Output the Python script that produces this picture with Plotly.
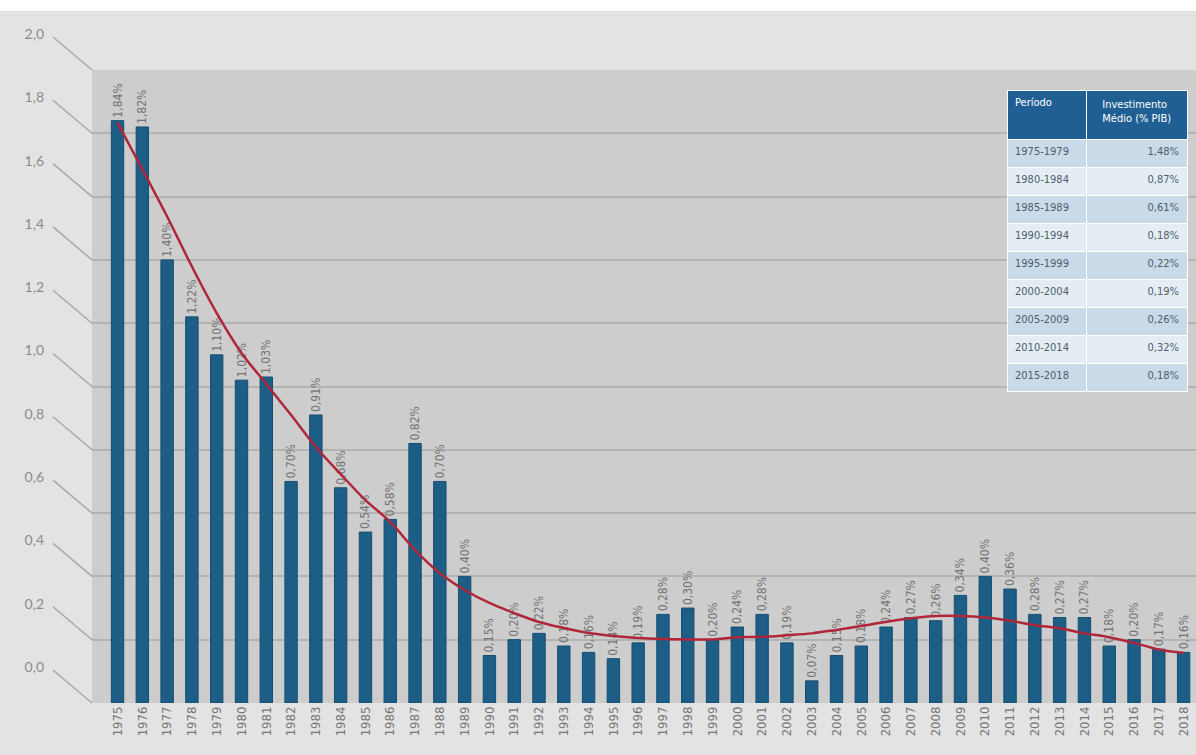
import plotly.graph_objects as go

# ---------------- data ----------------
years = list(range(1975, 2019))
invest = [1.84, 1.82, 1.40, 1.22, 1.10, 1.02, 1.03, 0.70, 0.91, 0.68,
          0.54, 0.58, 0.82, 0.70, 0.40, 0.15, 0.20, 0.22, 0.18, 0.16,
          0.14, 0.19, 0.28, 0.30, 0.20, 0.24, 0.28, 0.19, 0.07, 0.15,
          0.18, 0.24, 0.27, 0.26, 0.34, 0.40, 0.36, 0.28, 0.27, 0.27,
          0.18, 0.20, 0.17, 0.16]
trend = [1.833, 1.686, 1.537, 1.379, 1.232, 1.106, 1.008, 0.910, 0.809, 0.723,
         0.641, 0.572, 0.483, 0.410, 0.357, 0.316, 0.284, 0.256, 0.237, 0.221,
         0.212, 0.205, 0.202, 0.201, 0.201, 0.208, 0.209, 0.214, 0.220, 0.231,
         0.243, 0.257, 0.268, 0.275, 0.275, 0.270, 0.260, 0.246, 0.236, 0.220,
         0.208, 0.190, 0.169, 0.158]
y_ticks = [0.0, 0.2, 0.4, 0.6, 0.8, 1.0, 1.2, 1.4, 1.6, 1.8, 2.0]
y_ticktext = ["0,0", "0,2", "0,4", "0,6", "0,8", "1,0", "1,2", "1,4", "1,6", "1,8", "2,0"]

periods = ["1975-1979", "1980-1984", "1985-1989", "1990-1994", "1995-1999",
           "2000-2004", "2005-2009", "2010-2014", "2015-2018"]
period_avg = ["1,48%", "0,87%", "0,61%", "0,18%", "0,22%", "0,19%", "0,26%", "0,32%", "0,18%"]
table_header = ["Período", "Investimento<br>Médio (% PIB)"]

# ---------------- figure ----------------
W, H = 1196, 755
ML, MR, MT, MB = 0, 0, 70, 52
WALL_X = 92
Y_RANGE = [0, 2]

bar_text = [("%.2f" % v).replace(".", ",") + "%" for v in invest]
narrow = "Liberation Sans Narrow, DejaVu Sans Condensed, Roboto, sans-serif"

fig = go.Figure()
fig.add_trace(go.Bar(
    x=years, y=invest, width=0.5,
    marker=dict(color="#1d5e86", line=dict(color="#174d70", width=1)),
    text=bar_text, textposition="outside", textangle=-90, constraintext="none",
    outsidetextfont=dict(color="#747474", size=12, family=narrow),
    cliponaxis=False, showlegend=False, hoverinfo="x+y",
))
fig.add_trace(go.Scatter(
    x=years, y=trend, mode="lines",
    line=dict(color="#b0263a", width=2.5, shape="spline", smoothing=1.0),
    showlegend=False, hoverinfo="skip",
))

row_fill = ["#c9dbe8" if i % 2 == 0 else "#e5edf4" for i in range(len(periods))]
plot_h = H - MT - MB
fig.add_trace(go.Table(
    domain=dict(x=[1007 / W, 1188 / W], y=[(H - MB - 400) / plot_h, (H - MB - 90) / plot_h]),
    columnwidth=[80, 101],
    header=dict(values=table_header, fill_color="#1f5f93",
                line=dict(color="#ffffff", width=1),
                font=dict(color="white", size=11, family=narrow),
                align=["left", "center"], height=49),
    cells=dict(values=[periods, period_avg],
               fill_color=[row_fill, row_fill],
               line=dict(color="#ffffff", width=1),
               font=dict(color="#4d5d6e", size=11, family=narrow),
               align=["left", "right"], height=28),
))

# connector lines from shifted tick labels to the back wall
shapes = [
    dict(type="rect", xref="paper", yref="paper", x0=0, x1=1,
         y0=(H - MB - 11) / plot_h, y1=(H - MB) / plot_h,
         fillcolor="white", line=dict(width=0), layer="below"),
]
for v in y_ticks:
    frac = (v - Y_RANGE[0]) / (Y_RANGE[1] - Y_RANGE[0])
    shapes.append(dict(type="line", xref="paper", yref="y domain", ysizemode="pixel",
                       yanchor=frac, x0=WALL_X / W, x1=53 / W, y0=0, y1=33,
                       line=dict(color="#a9a9a9", width=1.5)))

fig.update_layout(
    width=W, height=H,
    margin=dict(l=ML, r=MR, t=MT, b=MB),
    paper_bgcolor="#e3e3e3", plot_bgcolor="#cdcdcd",
    bargap=0.5,
    shapes=shapes,
    xaxis=dict(domain=[WALL_X / W, 1], range=[1973.97, 2018.5],
               tickvals=years, ticktext=[str(y) for y in years], tickangle=-90,
               ticks="", showgrid=False, zeroline=False, showline=False,
               tickfont=dict(color="#777777", size=13, family=narrow)),
    yaxis=dict(range=Y_RANGE, tickvals=y_ticks, ticktext=y_ticktext,
               ticks="", showgrid=True, gridcolor="#b3b3b3", gridwidth=2,
               zeroline=False, showline=False,
               ticklabelshift=-36, ticklabelstandoff=47,
               tickfont=dict(color="#8c8c8c", size=14, family="Lato, sans-serif")),
)

fig.write_html("out.html")
